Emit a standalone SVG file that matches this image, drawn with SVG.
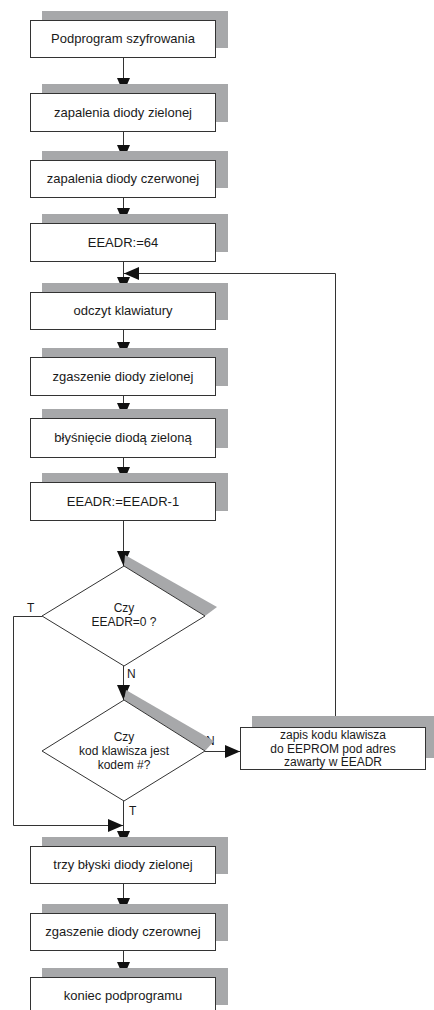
<svg xmlns="http://www.w3.org/2000/svg" width="434" height="1010" viewBox="0 0 434 1010">
<defs>
<style>
.sh{fill:#a7a8aa;stroke:none}
.bx{fill:#fff;stroke:#333;stroke-width:1}
.t{font-family:"Liberation Sans",Arial,sans-serif;font-size:13px;fill:#1a1a1a;text-anchor:middle}
.t2{font-family:"Liberation Sans",Arial,sans-serif;font-size:12px;fill:#1a1a1a;text-anchor:middle}
.lb{font-family:"Liberation Sans",Arial,sans-serif;font-size:12px;fill:#1a1a1a}
.ln{fill:none;stroke:#333;stroke-width:1}
</style>
<marker id="ah" markerUnits="userSpaceOnUse" viewBox="0 0 15 13" markerWidth="15" markerHeight="13" refX="15" refY="6.5" orient="auto" overflow="visible">
<path d="M0,0 L15,6.5 L0,13 Z" fill="#111"/>
</marker>
</defs>
<rect width="434" height="1010" fill="#fff"/>

<g id="connectors">
<line class="ln" x1="123.5" y1="57" x2="123.5" y2="93" marker-end="url(#ah)"/>
<line class="ln" x1="123.5" y1="131" x2="123.5" y2="160" marker-end="url(#ah)"/>
<line class="ln" x1="123.5" y1="197" x2="123.5" y2="223" marker-end="url(#ah)"/>
<line class="ln" x1="123.5" y1="261" x2="123.5" y2="292" marker-end="url(#ah)"/>
<line class="ln" x1="123.5" y1="329" x2="123.5" y2="357" marker-end="url(#ah)"/>
<line class="ln" x1="123.5" y1="395" x2="123.5" y2="418" marker-end="url(#ah)"/>
<line class="ln" x1="123.5" y1="457" x2="123.5" y2="482" marker-end="url(#ah)"/>
<line class="ln" x1="123.5" y1="520" x2="123.5" y2="566" marker-end="url(#ah)"/>
<line class="ln" x1="123.5" y1="666" x2="123.5" y2="700" marker-end="url(#ah)"/>
<line class="ln" x1="123.5" y1="801" x2="123.5" y2="846" marker-end="url(#ah)"/>
<line class="ln" x1="123.5" y1="883" x2="123.5" y2="913" marker-end="url(#ah)"/>
<line class="ln" x1="123.5" y1="950" x2="123.5" y2="977" marker-end="url(#ah)"/>
<polyline class="ln" points="42,616.5 13.5,616.5 13.5,825.5 123,825.5" marker-end="url(#ah)"/>
<line class="ln" x1="205" y1="751.5" x2="240" y2="751.5" marker-end="url(#ah)"/>
<polyline class="ln" points="335.5,727 335.5,273.5 124,273.5" marker-end="url(#ah)"/>
<text class="lb" x="27" y="612">T</text>
<text class="lb" x="127" y="678">N</text>
<text class="lb" x="206" y="745">N</text>
<text class="lb" x="129" y="815">T</text>
</g>

<g id="n1"><rect class="sh" x="42" y="11" width="186" height="37"/><rect class="bx" x="30.5" y="20.5" width="185" height="37"/><text class="t" x="123" y="43">Podprogram szyfrowania</text></g>
<g id="n2"><rect class="sh" x="42" y="84" width="186" height="38"/><rect class="bx" x="30.5" y="93.5" width="185" height="38"/><text class="t" x="123" y="117">zapalenia diody zielonej</text></g>
<g id="n3"><rect class="sh" x="42" y="151" width="186" height="37"/><rect class="bx" x="30.5" y="160.5" width="185" height="37"/><text class="t" x="123" y="183">zapalenia diody czerwonej</text></g>
<g id="n4"><rect class="sh" x="42" y="214" width="186" height="38"/><rect class="bx" x="30.5" y="223.5" width="185" height="38"/><text class="t" x="123" y="247">EEADR:=64</text></g>
<g id="n5"><rect class="sh" x="42" y="283" width="186" height="37"/><rect class="bx" x="30.5" y="292.5" width="185" height="37"/><text class="t" x="123" y="315">odczyt klawiatury</text></g>
<g id="n6"><rect class="sh" x="42" y="348" width="186" height="38"/><rect class="bx" x="30.5" y="357.5" width="185" height="38"/><text class="t" x="123" y="381">zgaszenie diody zielonej</text></g>
<g id="n7"><rect class="sh" x="42" y="409" width="186" height="39"/><rect class="bx" x="30.5" y="418.5" width="185" height="39"/><text class="t" x="123" y="442">błyśnięcie diodą zieloną</text></g>
<g id="n8"><rect class="sh" x="42" y="473" width="186" height="38"/><rect class="bx" x="30.5" y="482.5" width="185" height="38"/><text class="t" x="123" y="506">EEADR:=EEADR-1</text></g>

<g id="d1"><polygon class="sh" points="124,566 125,555 217,607 205,616"/><polygon class="bx" points="124,566 205,616 124,666 42,616"/><text class="t2" x="124" y="612">Czy</text><text class="t2" x="124" y="626">EEADR=0 ?</text></g>
<g id="d2"><polygon class="sh" points="124,700 126,690 214,741 205,751"/><polygon class="bx" points="124,700 205,751 124,801 42,751"/><text class="t2" x="124" y="741">Czy</text><text class="t2" x="124" y="755">kod klawisza jest</text><text class="t2" x="124" y="769">kodem #?</text></g>

<g id="n12"><rect class="sh" x="252" y="716" width="190" height="42"/><rect class="bx" x="240.5" y="727.5" width="185" height="42"/><text class="t2" x="333" y="739">zapis kodu klawisza</text><text class="t2" x="333" y="752.5">do EEPROM pod adres</text><text class="t2" x="333" y="766">zawarty w EEADR</text></g>

<g id="n9"><rect class="sh" x="42" y="837" width="186" height="37"/><rect class="bx" x="30.5" y="846.5" width="185" height="37"/><text class="t" x="123" y="869">trzy błyski diody zielonej</text></g>
<g id="n10"><rect class="sh" x="42" y="904" width="186" height="37"/><rect class="bx" x="30.5" y="913.5" width="185" height="37"/><text class="t" x="123" y="936">zgaszenie diody czerownej</text></g>
<g id="n11"><rect class="sh" x="42" y="968" width="186" height="37"/><rect class="bx" x="30.5" y="977.5" width="185" height="40"/><text class="t" x="123" y="1000">koniec podprogramu</text></g>
</svg>
